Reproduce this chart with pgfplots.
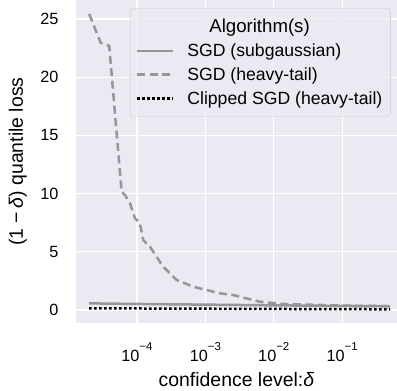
\documentclass[border=0pt]{standalone}
\usepackage{fontspec}
\setmainfont{Liberation Sans}
\usepackage{pgfplots}
\pgfplotsset{compat=1.18}
\definecolor{bg}{HTML}{EAEAF2}
\definecolor{lgray}{RGB}{150,150,150}
\definecolor{legedge}{RGB}{204,204,204}
\newcommand{\tp}[1]{10\raisebox{11bp}{\fontsize{11.5}{12}\selectfont −#1}}
\begin{document}
\begin{tikzpicture}
\begin{axis}[
  scale only axis, width=321bp, height=323bp,
  xmode=log, xmin=1.2882e-5, xmax=0.631,
  ymin=-1.117, ymax=26.63,
  axis background/.style={fill=bg},
  axis line style={draw=none},
  major tick length=0pt, minor tick length=0pt,
  xminorgrids=false, xmajorgrids=true, ymajorgrids=true,
  major grid style={white, line width=1.3bp},
  xtick={1e-4,1e-3,1e-2,1e-1},
  xticklabels={\tp{4},\tp{3},\tp{2},\tp{1}},
  ytick={0,5,10,15,20,25},
  /pgf/number format/assume math mode=true,
  tick label style={font=\fontsize{16.3}{18}\selectfont},
  xticklabel style={anchor=base, yshift=-38.7bp},
  yticklabel style={anchor=east, xshift=-14bp},
  xlabel={confidence level:\textit{δ}},
  ylabel={(1\hspace{0.22em}−\hspace{0.22em}\textit{δ}) quantile loss},
  label style={font=\fontsize{19.5}{21}\selectfont},
  xlabel style={at={(axis description cs:0.5,-0.1975)}, anchor=base},
  ylabel style={at={(axis description cs:-0.1808,0.5)}, anchor=center, rotate=0},
  legend cell align=left,
  legend style={at={(axis description cs:0.168,0.975)}, anchor=north west,
    fill=bg, fill opacity=0.8, draw opacity=1, text opacity=1, draw=legedge,
    rounded corners=3bp, font=\fontsize{17.7}{19}\selectfont,
    inner xsep=6bp, inner ysep=9bp, row sep=5.5bp},
  legend image code/.code={\path[draw=none,fill=none] (0bp,0bp) -- (48bp,0bp); \draw[#1] (0bp,0bp) -- (36bp,0bp);},
]
\addlegendimage{empty legend}
\addlegendentry{\hspace*{22bp}\fontsize{18.7}{19}\selectfont Algorithm(s)}

\addplot[lgray, line width=2.5bp] coordinates {
(2.0e-5,0.57) (1e-4,0.52) (1e-3,0.46) (1e-2,0.40) (1e-1,0.35) (0.5,0.32)
};
\addlegendentry{SGD (subgaussian)}

\addplot[lgray, line width=2.5bp, dash pattern=on 8bp off 4.5bp] coordinates {
(2.01e-5,25.43) (2.95e-5,22.96) (3.94e-5,22.68) (5.98e-5,10.17) (6.68e-5,9.88)
(7.91e-5,9.17) (9.35e-5,7.88) (1.10e-4,7.5) (1.24e-4,6.0) (1.55e-4,5.44)
(2.42e-4,3.72) (3.80e-4,2.58) (6.64e-4,2.0) (8.3e-4,1.86) (1.63e-3,1.43)
(2.52e-3,1.29) (6.25e-3,0.71) (1.35e-2,0.52) (0.1,0.38) (0.5,0.33)
};
\addlegendentry{SGD (heavy-tail)}

\addplot[black, line width=2.5bp, dash pattern=on 2.5bp off 2.5bp] coordinates {
(2.0e-5,0.15) (1e-4,0.13) (1e-3,0.11) (1e-2,0.09) (1e-1,0.07) (0.5,0.06)
};
\addlegendentry{Clipped SGD (heavy-tail)}
\end{axis}
\pgfresetboundingbox
\useasboundingbox (-76bp,-68bp) rectangle (321bp,323bp);
\end{tikzpicture}
\end{document}
